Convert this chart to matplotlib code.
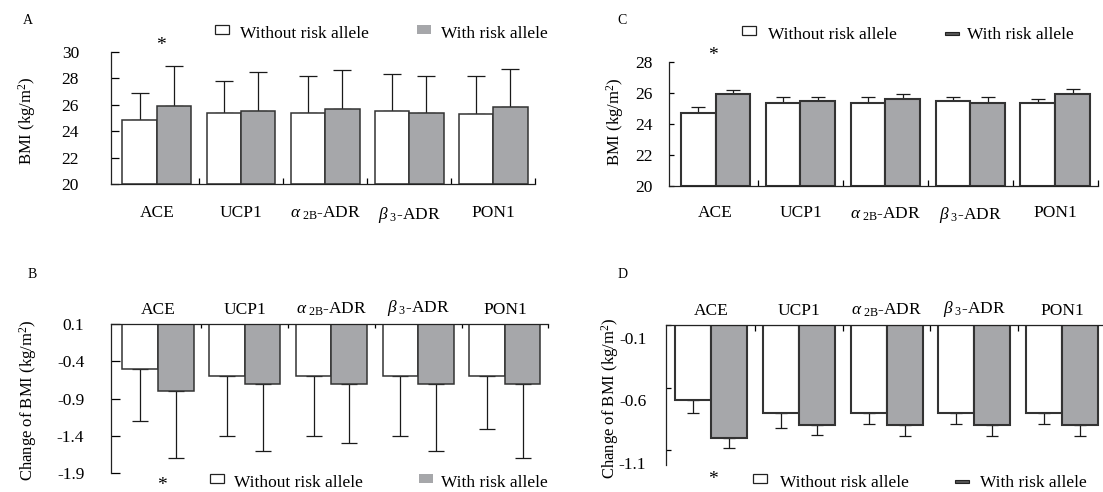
import matplotlib
matplotlib.use("Agg")
import matplotlib.pyplot as plt
from matplotlib.patches import Rectangle
import numpy as np

plt.rcParams['font.family'] = ['Liberation Serif', 'DejaVu Serif']
plt.rcParams['mathtext.fontset'] = 'custom'
plt.rcParams['mathtext.rm'] = 'Liberation Serif'
plt.rcParams['mathtext.it'] = 'Liberation Serif:italic'

# ---------------- data ----------------
genes = ['ACE', 'UCP1', r'$\alpha_{\ \mathrm{2B}}$-ADR', r'$\beta_{\ \mathrm{3}}$-ADR', 'PON1']

a_without = [24.8, 25.4, 25.4, 25.55, 25.3]
a_without_sd = [2.1, 2.4, 2.8, 2.8, 2.9]
a_with = [25.9, 25.5, 25.7, 25.4, 25.8]
a_with_sd = [3.0, 3.0, 2.9, 2.8, 2.9]

b_without = [-0.5, -0.6, -0.6, -0.6, -0.6]
b_without_sd = [0.7, 0.8, 0.8, 0.8, 0.7]
b_with = [-0.8, -0.7, -0.7, -0.7, -0.7]
b_with_sd = [0.9, 0.9, 0.8, 0.9, 1.0]

c_without = [24.7, 25.35, 25.35, 25.45, 25.35]
c_without_sd = [0.4, 0.35, 0.4, 0.3, 0.25]
c_with = [25.9, 25.45, 25.6, 25.35, 25.9]
c_with_sd = [0.25, 0.25, 0.3, 0.4, 0.35]

d_without = [-0.6, -0.7, -0.7, -0.7, -0.7]
d_without_sd = [0.1, 0.12, 0.09, 0.09, 0.09]
d_with = [-0.9, -0.8, -0.8, -0.8, -0.8]
d_with_sd = [0.08, 0.08, 0.09, 0.09, 0.09]

a_yticks = [20, 22, 24, 26, 28, 30]
c_yticks = [20, 22, 24, 26, 28]
b_yticks = [0.1, -0.4, -0.9, -1.4, -1.9]
d_ytick_labels = [-0.1, -0.6, -1.1]
d_tick_marks = [0.0, -0.5, -1.0]

legend_labels = ['Without risk allele', 'With risk allele']

# ---------------- layout ----------------
W, H = 1103, 492
fig = plt.figure(figsize=(W / 100, H / 100), dpi=100)


def fx(x):
    return x / W


def fy(y):
    return 1 - y / H


def add_ax(left, right, top, bottom):
    return fig.add_axes([fx(left), fy(bottom), (right - left) / W, (bottom - top) / H])


WHITE = 'white'
GREY = '#a6a7aa'
EDGE = '#333333'
FS = 12.5
BW = 0.41
x = np.arange(len(genes))


def draw(ax, without, wsd, withv, withsd, base, up, lw_edge, capsize, ylim, xlim):
    if up:
        e1 = [np.zeros(len(wsd)), wsd]
        e2 = [np.zeros(len(withsd)), withsd]
    else:
        e1 = [wsd, np.zeros(len(wsd))]
        e2 = [withsd, np.zeros(len(withsd))]
    ekw = dict(elinewidth=0.9, capthick=0.9, ecolor='#1a1a1a')
    ax.bar(x - BW / 2, np.array(without) - base, BW, bottom=base, color=WHITE,
           edgecolor=EDGE, linewidth=lw_edge, zorder=2)
    ax.bar(x + BW / 2, np.array(withv) - base, BW, bottom=base, color=GREY,
           edgecolor=EDGE, linewidth=lw_edge, zorder=2)
    ax.errorbar(x - BW / 2, without, yerr=e1, fmt='none', capsize=capsize, zorder=1, **ekw)
    ax.errorbar(x + BW / 2, withv, yerr=e2, fmt='none', capsize=capsize, zorder=1, **ekw)
    ax.set_ylim(*ylim)
    ax.set_xlim(*xlim)
    ax.set_xticks(x)
    ax.set_xticklabels(genes, fontsize=FS)
    ax.set_xticks(np.arange(0.5, len(genes), 1.0), minor=True)
    ax.tick_params(axis='x', which='major', length=0)
    ax.spines['right'].set_visible(False)
    for s in ax.spines.values():
        s.set_linewidth(0.9)
        s.set_color('#222222')
    ax.set_facecolor('none')


# Panel A
axA = add_ax(111, 535.3, 51.7, 184)
draw(axA, a_without, a_without_sd, a_with, a_with_sd, 20, True, 1.1, 6.5, (20, 30), (-0.546, 4.5))
axA.spines['top'].set_visible(False)
axA.set_yticks(a_yticks)
axA.set_yticklabels([str(v) for v in a_yticks], fontsize=FS)
axA.tick_params(axis='y', direction='in', length=6, width=0.9, pad=23)
axA.tick_params(axis='x', which='minor', direction='in', length=4.5, width=0.9)
axA.tick_params(axis='x', which='major', pad=15)

# Panel C
axC = add_ax(669.3, 1097.7, 61.7, 185.7)
draw(axC, c_without, c_without_sd, c_with, c_with_sd, 20, True, 1.5, 4.8, (20, 28), (-0.545, 4.5))
axC.spines['top'].set_visible(False)
axC.set_yticks(c_yticks)
axC.set_yticklabels([str(v) for v in c_yticks], fontsize=FS)
axC.tick_params(axis='y', direction='in', length=3.5, width=0.9, pad=12)
axC.tick_params(axis='x', which='minor', direction='in', length=4.5, width=0.9)
axC.tick_params(axis='x', which='major', pad=14)

# Panel B
axB = add_ax(110.7, 548.3, 324, 473.3)
draw(axB, b_without, b_without_sd, b_with, b_with_sd, 0.1, False, 1.1, 6.0, (-1.9, 0.1), (-0.546, 4.5))
axB.spines['bottom'].set_visible(False)
axB.xaxis.tick_top()
axB.set_yticks(b_yticks)
axB.set_yticklabels([f'{v:.1f}' for v in b_yticks], fontsize=FS)
axB.tick_params(axis='y', direction='in', length=6.5, width=0.9, pad=19)
axB.tick_params(axis='x', which='minor', direction='in', length=3, width=0.9, top=True, bottom=False)
axB.tick_params(axis='x', which='major', pad=4, top=True, bottom=False)

# Panel D
axD = add_ax(665.7, 1106, 325, 465)
draw(axD, d_without, d_without_sd, d_with, d_with_sd, 0.0, False, 1.5, 4.0, (-1.118, 0.0), (-0.517, 4.5))
axD.spines['bottom'].set_visible(False)
axD.xaxis.tick_top()
axD.set_yticks(d_ytick_labels)
axD.set_yticklabels([f'{v:.1f}' for v in d_ytick_labels], fontsize=FS)
axD.set_yticks(d_tick_marks, minor=True)
axD.tick_params(axis='y', which='major', length=0, pad=14)
axD.tick_params(axis='y', which='minor', direction='in', length=3.5, width=0.9)
axD.tick_params(axis='x', which='minor', direction='in', length=4.5, width=0.9, top=True, bottom=False)
axD.tick_params(axis='x', which='major', pad=4, top=True, bottom=False)

# y labels
fig.text(fx(27), fy(121), 'BMI (kg/m$^2$)', rotation=90, ha='center', va='center', fontsize=12)
fig.text(fx(615), fy(122), 'BMI (kg/m$^2$)', rotation=90, ha='center', va='center', fontsize=12)
fig.text(fx(28), fy(400), 'Change of BMI (kg/m$^2$)', rotation=90, ha='center', va='center', fontsize=12)
fig.text(fx(610), fy(398), 'Change of BMI (kg/m$^2$)', rotation=90, ha='center', va='center', fontsize=12)

# panel letters
for letter, (px_, py_) in zip('ABCD', [(28, 21), (32, 274), (622, 20), (623, 274)]):
    fig.text(fx(px_), fy(py_), letter, ha='center', va='center', fontsize=10)

# asterisks
for (px_, py_) in [(161, 45), (713, 56), (162, 485), (713, 480)]:
    fig.text(fx(px_), fy(py_), '*', ha='center', va='center', fontsize=14)


# legends
def legend(wbox_x, wtext_x, gbox_x, gtext_x, yc, dash=False):
    fig.add_artist(Rectangle((fx(wbox_x), fy(yc + 1)), 14 / W, 9 / H, transform=fig.transFigure,
                             facecolor='white', edgecolor='#222222', linewidth=0.9))
    fig.text(fx(wtext_x), fy(yc + 1), legend_labels[0], ha='left', va='center', fontsize=FS)
    if dash:
        fig.add_artist(Rectangle((fx(gbox_x), fy(yc + 1)), 14 / W, 3 / H, transform=fig.transFigure,
                                 facecolor='#555555', edgecolor='#222222', linewidth=0.8))
    else:
        fig.add_artist(Rectangle((fx(gbox_x), fy(yc + 1)), 14 / W, 9 / H, transform=fig.transFigure,
                                 facecolor=GREY, edgecolor='none'))
    fig.text(fx(gtext_x), fy(yc + 1), legend_labels[1], ha='left', va='center', fontsize=FS)


legend(215, 240, 417, 441, 33)
legend(742, 768, 945, 967, 34, dash=True)
legend(210, 234, 419, 441, 482)
legend(753, 780, 955, 980, 482, dash=True)

fig.savefig('out.png', dpi=100)
